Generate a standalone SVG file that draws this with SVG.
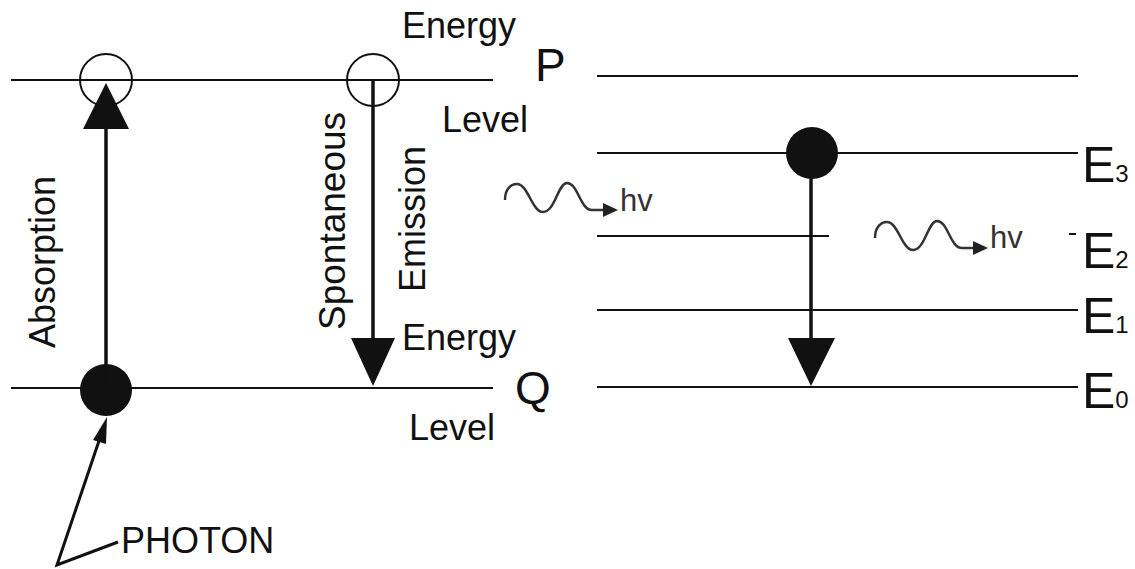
<svg xmlns="http://www.w3.org/2000/svg" width="1135" height="569" viewBox="0 0 1135 569">
<style>
.lvl{stroke:#111;stroke-width:2;fill:none}
.arr{stroke:#111;stroke-width:3.5;fill:none}
.head{fill:#111}
.t{font-family:"Liberation Sans",Arial,sans-serif;fill:#111;font-size:36px}
.big{font-size:46px}
.e{font-family:"Liberation Sans",Arial,sans-serif;fill:#111;font-size:50px}
.sub{font-size:24px}
.hv{font-family:"Liberation Sans",Arial,sans-serif;fill:#333;font-size:31px}
.wave{stroke:#333;stroke-width:2.5;fill:none}
</style>
<defs>
<g id="wavesym">
<path class="wave" d="M505,200 C505,189 511,184 517,184 C528,184 532,212 543,212 C555,212 558,183 567,183 C578,183 580,210 592,210 L606,210"/>
<polygon fill="#222" points="618,210 603,203 603,217"/>
</g>
</defs>
<rect width="1135" height="569" fill="#fff"/>
<g id="level-P">
<line class="lvl" x1="11" y1="80" x2="493" y2="80"/>
<text class="t big" x="535" y="81">P</text>
<text class="t" x="402" y="38">Energy</text>
<text class="t" x="442" y="132">Level</text>
</g>
<g id="level-Q">
<line class="lvl" x1="11" y1="388" x2="493" y2="388"/>
<text class="t big" x="515" y="404">Q</text>
<text class="t" x="402" y="350">Energy</text>
<text class="t" x="409" y="440">Level</text>
</g>
<g id="circle-abs-top"><circle cx="106" cy="80" r="26" fill="none" stroke="#111" stroke-width="2"/></g>
<g id="circle-em-top"><circle cx="373" cy="80" r="26" fill="none" stroke="#111" stroke-width="2"/></g>
<g id="circle-abs-bottom"><circle cx="106" cy="390" r="26" fill="#111"/></g>
<g id="label-absorption"><text class="t" transform="translate(55,348) rotate(-90)">Absorption</text></g>
<g id="label-spontaneous"><text class="t" style="font-size:37px" transform="translate(345,330) rotate(-90)">Spontaneous</text></g>
<g id="label-emission"><text class="t" transform="translate(425,292) rotate(-90)">Emission</text></g>
<g id="label-photon"><text class="t" x="121" y="553">PHOTON</text></g>
<g id="level-top-right"><line class="lvl" x1="597" y1="76" x2="1078" y2="76"/></g>
<g id="level-E3">
<line class="lvl" x1="597" y1="153" x2="1078" y2="153"/>
<text class="e" x="1082" y="182">E<tspan class="sub">3</tspan></text>
</g>
<g id="level-E2">
<line class="lvl" x1="597" y1="236" x2="829" y2="236"/>
<line class="lvl" x1="1069" y1="234" x2="1076" y2="234"/>
<text class="e" x="1082" y="268">E<tspan class="sub">2</tspan></text>
</g>
<g id="level-E1">
<line class="lvl" x1="597" y1="310" x2="1078" y2="310"/>
<text class="e" x="1082" y="333">E<tspan class="sub">1</tspan></text>
</g>
<g id="level-E0">
<line class="lvl" x1="597" y1="387" x2="1078" y2="387"/>
<text class="e" x="1082" y="408">E<tspan class="sub">0</tspan></text>
</g>
<g id="circle-E3"><circle cx="812" cy="153" r="26" fill="#111"/></g>
<g id="wave-left">
<use href="#wavesym"/>
<text class="hv" x="620" y="211">hv</text>
</g>
<g id="wave-right">
<use href="#wavesym" transform="translate(370,38)"/>
<text class="hv" x="990" y="248">hv</text>
</g>
<g id="connectors">
<line class="arr" x1="106" y1="390" x2="106" y2="126"/>
<polygon class="head" points="106,83 83,129 129,129"/>
<line class="arr" x1="373" y1="80" x2="373" y2="340"/>
<polygon class="head" points="351,338 395,338 373,386"/>
<line class="arr" x1="811" y1="153" x2="811" y2="340"/>
<polygon class="head" points="788,338 835,338 811,386"/>
<polyline class="arr" style="stroke-width:3" points="118,542 57,565 102,432"/>
<polygon class="head" points="107,417 93,440 106,444"/>
</g>
</svg>
